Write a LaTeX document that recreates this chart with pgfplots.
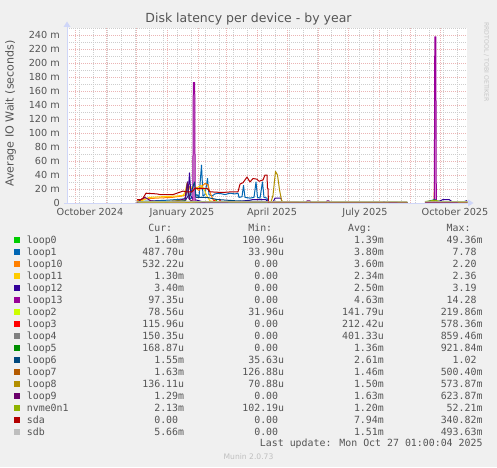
\documentclass[border=0pt]{standalone}
\usepackage{pgfplots}
\pgfplotsset{compat=1.18}
\usepackage{fontspec}
\setmainfont{DejaVu Sans}
\newfontfamily\mono{DejaVu Sans Mono}
\definecolor{bg}{HTML}{F0F0F0}
\definecolor{txt}{HTML}{555555}
\definecolor{axisc}{HTML}{CFD6F8}
\definecolor{mgrid}{HTML}{EBB4B4}
\definecolor{mingrid}{HTML}{CDCDCD}
\definecolor{cA}{HTML}{00CC00}
\definecolor{cB}{HTML}{0066B3}
\definecolor{cC}{HTML}{FF8000}
\definecolor{cD}{HTML}{FFCC00}
\definecolor{cE}{HTML}{330099}
\definecolor{cF}{HTML}{990099}
\definecolor{cG}{HTML}{CCFF00}
\definecolor{cH}{HTML}{FF0000}
\definecolor{cI}{HTML}{808080}
\definecolor{cJ}{HTML}{008F00}
\definecolor{cK}{HTML}{00487D}
\definecolor{cL}{HTML}{B35A00}
\definecolor{cM}{HTML}{B38F00}
\definecolor{cN}{HTML}{6B006B}
\definecolor{cO}{HTML}{8FB300}
\definecolor{cP}{HTML}{B30000}
\definecolor{cQ}{HTML}{BEBEBE}
\newcommand\lrow[7]{%
  \pgfmathsetmacro\yb{224-12.05*#1}
  \fill[#2] (14,\yb+0.5) rectangle (20,\yb+6.5);
  \node[anchor=base west] at (26.7,\yb) {#3};
  \node[anchor=base east] at (184.3,\yb) {#4};
  \node[anchor=base east] at (284.3,\yb) {#5};
  \node[anchor=base east] at (384,\yb) {#6};
  \node[anchor=base east] at (482.7,\yb) {#7};
}
\newcommand\nounit{\hphantom{m}}
\begin{document}
\begin{tikzpicture}[x=1pt,y=1pt]
\useasboundingbox (0,0) rectangle (497,467);
\fill[bg] (0,0) rectangle (497,467);
\begin{axis}[
  at={(67pt,264pt)}, anchor=south west,
  scale only axis, width=400pt, height=175pt,
  xmin=0, xmax=400, ymin=0, ymax=250,
  axis line style={draw=none},
  axis background/.style={fill=white},
  unbounded coords=jump,
  xtick={8,39,69,100,131,159,190,220,251,281,312,343,373},
  xticklabels={},
  minor xtick={12,26,...,390},
  extra x ticks={23,115,205,298,388},
  extra x tick labels={October 2024,January 2025,April 2025,July 2025,October 2025},
  extra x tick style={grid=none},
  ytick={0,20,...,240},
  yticklabels={0,20 m,40 m,60 m,80 m,100 m,120 m,140 m,160 m,180 m,200 m,220 m,240 m},
  minor ytick={10,30,...,250},
  grid=both,
  major grid style={mgrid, dash pattern=on 1pt off 1pt, line width=0.9pt},
  minor grid style={mingrid, dash pattern=on 1pt off 1pt, line width=0.9pt},
  major tick length=0pt, minor tick length=0pt,
  tick label style={font=\fontsize{9.7}{11}\selectfont, text=txt, inner sep=0pt},
  yticklabel style={anchor=east, xshift=-7pt},
  xticklabel style={anchor=north, yshift=-5pt},
  every axis plot/.append style={line width=1pt, line join=round, no markers},
]
% loop0
\addplot[cA] coordinates {(70,1.2)(90,1.3)(110,1.5)(125,1.8)(135,1.6)(148,1.2)(149,5)(150,1.2)(170,1.4)(200,1.3)(230,1.2)(280,1.2)(340,1.3)(349,nan)(358,1.6)(380,1.7)(400,1.6)};
% loop1
\addplot[cB] coordinates {(70,2)(85,3)(100,4)(110,5)(118,6)(121,20)(123,6)(127,9)(130,12)(132,8)(134.5,54)(136,10)(138,12)(140.5,35)(142,12)(145,10)(148,13)(152,14)(158,12)(163,14)(168,13)(171,14)(172,8)(175,9)(176.5,25)(178,8)(183,7)(187,8)(189,30)(190.5,8)(193,7)(195.5,30)(197,8)(200,7)(201,1)(230,0.5)(300,0.5)(340,0.5)(349,nan)(358,0.5)(400,0.5)};
% loop10
\addplot[cC] coordinates {(70,3)(78,6)(90,7)(105,8)(115,10)(119,12)(121,26)(124,20)(128,22)(132,18)(135,24)(138,28)(141,26)(143,15)(146,5)(150,2)(170,1)(200,1)(300,0.8)(340,0.8)(349,nan)(358,0.8)(367,1)(367.5,30)(368.5,2)(370,0.8)(400,0.5)};
% loop11
\addplot[cD] coordinates {(70,2)(76,4)(82,8)(95,9)(110,10)(116,11)(118,15)(120,28)(122,20)(126,24)(130,22)(134,25)(137,20)(140,10)(143,3)(150,1.5)(200,1)(340,1)(349,nan)(358,1.2)(400,1.3)};
% loop12
\addplot[cE] coordinates {(70,1)(90,2)(110,2)(118,3)(121,10)(122.5,43)(124,10)(126,5)(130,4)(135,2)(150,2)(170,2)(183,4)(186,5)(199,5)(200.5,1)(206,1)(208,7)(214,7)(215,1)(230,0.5)(316,0.5)(317,2)(318,0.5)(340,0.5)(349,nan)(358,0.5)(367,1)(368,13)(369,2)(373,3)(376,5)(382,5)(385,2)(395,1)(400,3.4)};
% loop13
\addplot[cF, fill=cF!40] coordinates {(70,0)(125.8,0)(126.3,172)(127.7,172)(128.2,0)(340,0)(349,nan)(358,0)(367.3,0)(367.8,237.5)(368.8,237.5)(369.3,0)(400,0)};
% loop2
\addplot[cG] coordinates {(70,0.1)(340,0.1)(349,nan)(358,0.1)(400,0.1)};
% loop3
\addplot[cH] coordinates {(70,0)(146,0)(147,4)(148.5,0)(152,0)(153,4)(154.5,0)(340,0)(349,nan)(358,0)(400,0.1)};
% loop4
\addplot[cI] coordinates {(70,0.3)(200,0.5)(340,0.4)(349,nan)(358,0.3)(400,0.2)};
% loop5
\addplot[cJ] coordinates {(70,0.5)(120,1)(140,2)(160,1)(200,0.6)(340,0.4)(349,nan)(358,0.5)(400,0.2)};
% loop6
\addplot[cK] coordinates {(70,1)(100,2)(118,3)(120.5,30)(122,6)(127.5,30)(129,8)(140,8)(150,5)(170,3)(200,2)(201,0.5)(340,0.5)(349,nan)(358,1)(368,5)(370,1.5)(400,1.5)};
% loop7
\addplot[cL] coordinates {(70,1)(150,2)(200,1.5)(340,1.2)(349,nan)(358,1.5)(400,1.6)};
% loop8
\addplot[cM] coordinates {(70,1)(200,1)(204,1.5)(206,11)(208.5,45)(210.5,40)(212.5,19)(214.5,4)(216,1)(340,1)(349,nan)(358,1)(400,0.5)};
% loop9
\addplot[cN] coordinates {(70,0.5)(74,5)(78,8)(84,3)(100,2)(110,3)(115,5)(118,6)(120.5,30)(122.5,5)(126,2)(140,0.5)(239,0.5)(240,3)(243,3)(244,0.5)(259,0.5)(260,3)(262,3)(263,0.5)(340,0.5)(349,nan)(358,0.5)(390,0.5)(391,2)(398,2)(400,1.3)};
% nvme0n1
\addplot[cO] coordinates {(70,1.5)(80,2)(100,2)(110,3)(130,2)(150,1.5)(200,1.2)(300,1.2)(328,1.5)(340,1.2)(349,nan)(358,2)(363,3)(368,4)(373,2)(400,2.1)};
% sda
\addplot[cP] coordinates {(70,5)(74,5)(76,7)(79,14)(90,13)(93,12)(106,12)(110,14)(116,17)(119,16)(125,16)(128,21)(140,21)(143,16)(155,15)(165,16)(171,16)(173,27)(176,29)(178,33)(180,37)(183,30)(186,35)(190,34)(192,31)(196,33)(198,40)(200,40)(200.5,21)(201,21)(201.5,0)(340,0)(349,nan)(358,0)(400,0)};
% sdb
\addplot[cQ] coordinates {(70,1.5)(120,1.8)(200,1.5)(340,1.5)(349,nan)(358,1.5)(400,1.5)};
\end{axis}
% axes with arrows
\draw[axisc, line width=1pt] (67,264) -- (67,441);
\fill[axisc] (63.5,440) -- (70.5,440) -- (67,445.5) -- cycle;
\draw[axisc, line width=1pt] (64,264) -- (468,264);
\fill[axisc] (468,260.5) -- (468,267.5) -- (473.5,264) -- cycle;
% titles
\node[anchor=base, text=txt, font=\fontsize{12.5}{14}\selectfont, inner sep=0pt] at (248.5,444) {Disk latency per device - by year};
\node[rotate=90, text=txt, font=\fontsize{11.1}{13}\selectfont, inner sep=0pt] at (10.5,353.5) {Average IO Wait (seconds)};
\node[rotate=-90, text=black!22, font=\fontsize{6.2}{7}\selectfont, inner sep=0pt] at (486.5,405) {RRDTOOL / TOBI OETIKER};
% legend
\begin{scope}[every node/.style={inner sep=0pt, text=txt, font=\mono\fontsize{9.9}{11}\selectfont}]
\node[anchor=base east] at (184.3,236) {Cur:\hphantom{mm}};
\node[anchor=base east] at (284.3,236) {Min:\hphantom{mm}};
\node[anchor=base east] at (384,236) {Avg:\hphantom{mm}};
\node[anchor=base east] at (482.7,236) {Max:\hphantom{mm}};
\lrow{0}{cA}{loop0}{1.60m}{100.96u}{1.39m}{49.36m}
\lrow{1}{cB}{loop1}{487.70u}{33.90u}{3.80m}{7.78\nounit}
\lrow{2}{cC}{loop10}{532.22u}{0.00\nounit}{3.60m}{2.20\nounit}
\lrow{3}{cD}{loop11}{1.30m}{0.00\nounit}{2.34m}{2.36\nounit}
\lrow{4}{cE}{loop12}{3.40m}{0.00\nounit}{2.50m}{3.19\nounit}
\lrow{5}{cF}{loop13}{97.35u}{0.00\nounit}{4.63m}{14.28\nounit}
\lrow{6}{cG}{loop2}{78.56u}{31.96u}{141.79u}{219.86m}
\lrow{7}{cH}{loop3}{115.96u}{0.00\nounit}{212.42u}{578.36m}
\lrow{8}{cI}{loop4}{150.35u}{0.00\nounit}{401.33u}{859.46m}
\lrow{9}{cJ}{loop5}{168.87u}{0.00\nounit}{1.36m}{921.84m}
\lrow{10}{cK}{loop6}{1.55m}{35.63u}{2.61m}{1.02\nounit}
\lrow{11}{cL}{loop7}{1.63m}{126.88u}{1.46m}{500.40m}
\lrow{12}{cM}{loop8}{136.11u}{70.88u}{1.50m}{573.87m}
\lrow{13}{cN}{loop9}{1.29m}{0.00\nounit}{1.63m}{623.87m}
\lrow{14}{cO}{nvme0n1}{2.13m}{102.19u}{1.20m}{52.21m}
\lrow{15}{cP}{sda}{0.00\nounit}{0.00\nounit}{7.94m}{340.82m}
\lrow{16}{cQ}{sdb}{5.66m}{0.00\nounit}{1.51m}{493.63m}
\node[anchor=base east] at (482.7,20.5) {Last update: Mon Oct 27 01:00:04 2025};
\end{scope}
\node[anchor=base, inner sep=0pt, text=black!25, font=\fontsize{7.6}{9}\selectfont] at (248.5,8) {Munin 2.0.73};
\end{tikzpicture}
\end{document}
